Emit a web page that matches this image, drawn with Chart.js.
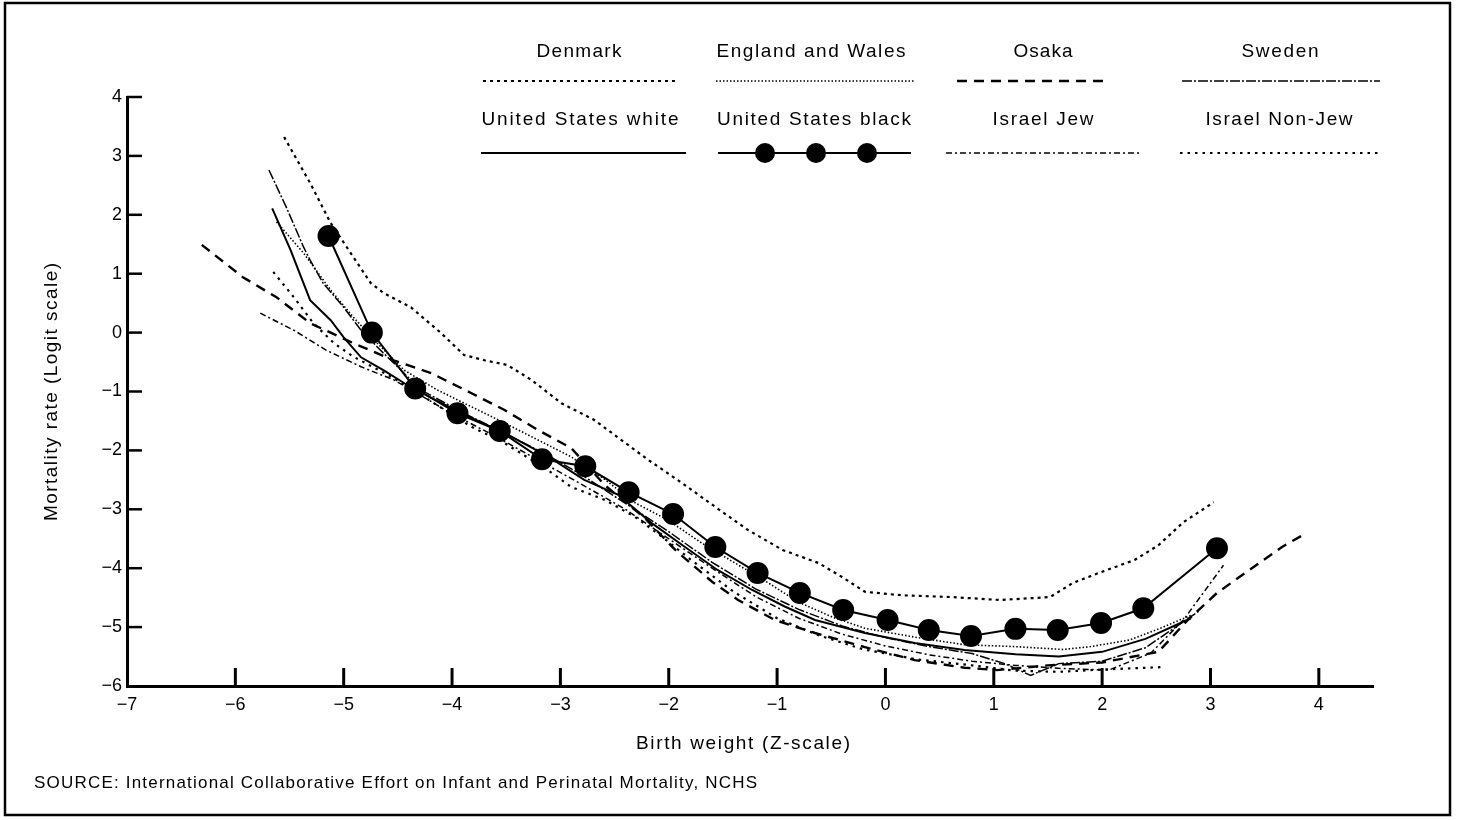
<!DOCTYPE html>
<html><head><meta charset="utf-8">
<script src="https://cdn.jsdelivr.net/npm/chart.js@4"></script>
<style>html,body{margin:0;padding:0;background:#fff}canvas{display:block}</style>
</head><body>
<canvas id="c" width="1458" height="820"></canvas>
<script>
// ---- data ----
const xTicks = [-7,-6,-5,-4,-3,-2,-1,0,1,2,3,4];
const yTicks = [-6,-5,-4,-3,-2,-1,0,1,2,3,4];
const xTitle = "Birth weight (Z-scale)";
const yTitle = "Mortality rate (Logit scale)";
const sourceText = "SOURCE: International Collaborative Effort on Infant and Perinatal Mortality, NCHS";

const denmarkX = [-5.55,-5.31,-5.12,-4.91,-4.75,-4.63,-4.38,-4.10,-3.89,-3.70,-3.49,-3.27,-2.99,-2.69,-2.44,-2.19,-1.88,-1.57,-1.27,-0.95,-0.62,-0.40,-0.19,0.15,0.61,1.06,1.52,1.73,1.97,2.30,2.52,2.75,3.03];
const denmarkY = [3.32,2.54,1.86,1.28,0.84,0.67,0.43,-0.01,-0.38,-0.47,-0.55,-0.80,-1.20,-1.48,-1.82,-2.16,-2.55,-2.96,-3.35,-3.69,-3.91,-4.15,-4.40,-4.46,-4.49,-4.54,-4.49,-4.25,-4.08,-3.86,-3.61,-3.22,-2.88];

const englandX = [-5.62,-5.37,-5.12,-4.91,-4.69,-4.44,-4.14,-3.82,-3.52,-3.21,-2.90,-2.60,-2.31,-2.01,-1.69,-1.39,-1.08,-0.81,-0.49,-0.19,0.27,0.73,1.18,1.64,1.90,2.25,2.55,2.82];
const englandY = [1.88,1.35,0.72,0.26,-0.18,-0.64,-0.97,-1.26,-1.53,-1.82,-2.11,-2.48,-2.89,-3.18,-3.58,-3.91,-4.25,-4.57,-4.83,-5.02,-5.17,-5.30,-5.33,-5.38,-5.33,-5.22,-5.01,-4.80];

const osakaX = [-6.31,-5.93,-5.62,-5.31,-4.91,-4.54,-4.19,-3.82,-3.52,-3.21,-2.90,-2.59,-2.22,-1.94,-1.60,-1.36,-1.02,-0.65,-0.19,0.27,0.73,1.03,1.50,2.00,2.52,2.79,3.06,3.36,3.66,3.85];
const osakaY = [1.49,0.94,0.60,0.16,-0.18,-0.47,-0.69,-1.03,-1.31,-1.65,-1.96,-2.59,-3.15,-3.69,-4.23,-4.54,-4.88,-5.10,-5.34,-5.56,-5.69,-5.73,-5.65,-5.60,-5.42,-4.88,-4.42,-4.03,-3.64,-3.44];

const swedenX = [-5.69,-5.53,-5.37,-5.31,-5.19,-5.00,-4.84,-4.66,-4.47,-4.29,-3.90,-3.50,-3.10,-2.80,-2.40,-2.00,-1.60,-1.20,-0.80,-0.40,0.00,0.40,0.80,1.10,1.34,1.60,2.00,2.40,2.90];
const swedenY = [2.76,2.13,1.45,1.23,0.84,0.43,0.04,-0.30,-0.64,-0.97,-1.36,-1.72,-2.10,-2.42,-2.90,-3.38,-3.90,-4.35,-4.70,-4.98,-5.18,-5.33,-5.45,-5.62,-5.82,-5.62,-5.58,-5.35,-4.72];

const usWhiteX = [-5.66,-5.49,-5.31,-5.12,-5.00,-4.84,-4.63,-4.44,-4.20,-3.90,-3.50,-3.10,-2.78,-2.47,-2.16,-1.85,-1.55,-1.23,-0.93,-0.65,-0.19,0.27,0.73,1.20,1.60,2.00,2.40,2.82];
const usWhiteY = [2.11,1.40,0.55,0.21,-0.08,-0.42,-0.64,-0.86,-1.10,-1.38,-1.72,-2.12,-2.50,-2.75,-3.23,-3.64,-4.03,-4.37,-4.65,-4.88,-5.10,-5.27,-5.39,-5.46,-5.50,-5.42,-5.20,-4.85];

const usBlackX = [-5.14,-4.74,-4.34,-3.95,-3.56,-3.17,-2.77,-2.37,-1.96,-1.57,-1.18,-0.79,-0.39,0.02,0.40,0.79,1.20,1.59,1.99,2.38,3.06];
const usBlackY = [1.64,0.00,-0.95,-1.37,-1.67,-2.15,-2.27,-2.71,-3.08,-3.64,-4.08,-4.42,-4.71,-4.88,-5.05,-5.15,-5.03,-5.05,-4.93,-4.68,-3.66];

const israelJewX = [-5.77,-5.46,-5.16,-4.84,-4.54,-4.34,-4.00,-3.60,-3.20,-2.80,-2.40,-2.00,-1.60,-1.20,-0.80,-0.40,0.00,0.40,0.80,1.20,1.60,2.06,2.45,2.75,3.12];
const israelJewY = [0.33,0.04,-0.30,-0.58,-0.80,-1.01,-1.38,-1.76,-2.17,-2.58,-3.00,-3.50,-4.00,-4.48,-4.85,-5.12,-5.32,-5.47,-5.58,-5.65,-5.70,-5.73,-5.44,-4.88,-3.95];

const israelNonJewX = [-5.65,-5.46,-5.28,-5.09,-4.91,-4.56,-4.26,-3.82,-3.52,-3.12,-2.90,-2.59,-2.31,-2.06,-1.80,-1.40,-1.00,-0.60,-0.20,0.30,0.80,1.20,1.60,2.00,2.55];
const israelNonJewY = [1.03,0.60,0.16,-0.18,-0.41,-0.75,-1.09,-1.60,-1.87,-2.33,-2.62,-2.84,-3.13,-3.47,-3.85,-4.40,-4.85,-5.15,-5.38,-5.55,-5.65,-5.74,-5.76,-5.72,-5.68];

// ---- chart ----
const FONT = 'Liberation Sans, Arial, Helvetica, sans-serif';
const pts = (xs, ys) => xs.map((x, i) => ({x: x, y: ys[i]}));
const fmt = v => (v < 0 ? '\u2212' + Math.abs(v) : String(v));

const datasets = [
  {label:'Denmark', data:pts(denmarkX, denmarkY), borderDash:[3,4], borderWidth:2.2},
  {label:'England and Wales', data:pts(englandX, englandY), borderDash:[1.5,2], borderWidth:1.6},
  {label:'Osaka', data:pts(osakaX, osakaY), borderDash:[10,7], borderWidth:2.4},
  {label:'Sweden', data:pts(swedenX, swedenY), borderDash:[10,2,2,2], borderWidth:1.5},
  {label:'United States white', data:pts(usWhiteX, usWhiteY), borderDash:[], borderWidth:2},
  {label:'Israel Jew', data:pts(israelJewX, israelJewY), borderDash:[6,3,2,3], borderWidth:1.5},
  {label:'Israel Non-Jew', data:pts(israelNonJewX, israelNonJewY), borderDash:[2.5,5], borderWidth:2.2},
  {label:'United States black', data:pts(usBlackX, usBlackY), borderDash:[], borderWidth:2, pointRadius:10}
].map(d => Object.assign({borderColor:'#000', backgroundColor:'#000', pointBackgroundColor:'#000', pointBorderColor:'#000', pointRadius:0, tension:0, fill:false}, d));

const legendLayout = [
  {name:'Denmark', tx:579, ty:52, w:85, x1:483, x2:677, ly:81},
  {name:'England and Wales', tx:811, ty:52, w:189, x1:716, x2:914, ly:81},
  {name:'Osaka', tx:1043, ty:52, w:59, x1:957, x2:1105, ly:81},
  {name:'Sweden', tx:1280, ty:52, w:77, x1:1182, x2:1380, ly:81},
  {name:'United States white', tx:580, ty:120, w:197, x1:481, x2:686, ly:153},
  {name:'United States black', tx:814, ty:120, w:194, x1:718, x2:911, ly:153, dots:[765,816,867]},
  {name:'Israel Jew', tx:1043, ty:120, w:101, x1:946, x2:1140, ly:153},
  {name:'Israel Non-Jew', tx:1279, ty:120, w:147, x1:1180, x2:1378, ly:153}
];

// draws text stretched by letter spacing so that it spans the target width
function fitText(c, text, x, y, size, width, align) {
  c.font = size + 'px ' + FONT;
  c.letterSpacing = '0px';
  const w = c.measureText(text).width;
  const sp = (width - w) / Math.max(1, text.length - 1);
  c.letterSpacing = sp + 'px';
  c.textAlign = align; c.textBaseline = 'middle'; c.fillStyle = '#000';
  const off = align === 'center' ? sp / 2 : 0;
  c.fillText(text, x + off, y);
  c.letterSpacing = '0px';
}

const decor = {
  id: 'decor',
  afterDraw(chart) {
    const c = chart.ctx, xs = chart.scales.x, ys = chart.scales.y, a = chart.chartArea;
    c.save();
    c.strokeStyle = '#000'; c.setLineDash([]);
    // inward tick marks
    c.lineWidth = 2.5;
    yTicks.forEach(v => { if (v === yTicks[0]) return; const p = ys.getPixelForValue(v);
      c.beginPath(); c.moveTo(a.left, p); c.lineTo(a.left + 15, p); c.stroke(); });
    c.lineWidth = 3;
    xTicks.forEach(v => { if (v === xTicks[0]) return; const p = xs.getPixelForValue(v);
      c.beginPath(); c.moveTo(p, a.bottom); c.lineTo(p, a.bottom - 18); c.stroke(); });
    // frame
    c.lineWidth = 2.5;
    c.strokeRect(5, 3, 1445, 812);
    // legend
    legendLayout.forEach(L => {
      const ds = chart.data.datasets.find(d => d.label === L.name);
      fitText(c, L.name, L.tx, L.ty, 19, L.w, 'center');
      c.strokeStyle = '#000';
      c.lineWidth = ds.borderWidth; c.setLineDash(ds.borderDash || []);
      c.beginPath(); c.moveTo(L.x1, L.ly); c.lineTo(L.x2, L.ly); c.stroke();
      c.setLineDash([]);
      if (L.dots) L.dots.forEach(dx => { c.beginPath(); c.arc(dx, L.ly, 10, 0, Math.PI * 2); c.fillStyle = '#000'; c.fill(); });
    });
    // axis titles and source
    fitText(c, xTitle, 743, 744, 19, 214, 'center');
    c.save(); c.translate(52, 392); c.rotate(-Math.PI / 2);
    fitText(c, yTitle, 0, 0, 19, 258, 'center');
    c.restore();
    fitText(c, sourceText, 34, 783, 17, 723, 'left');
    c.restore();
  }
};

new Chart(document.getElementById('c'), {
  type: 'line',
  data: {datasets: datasets},
  options: {
    responsive: false, animation: false, devicePixelRatio: 1,
    layout: {padding: {top: 97, right: 85, left: 0, bottom: 0}},
    plugins: {legend: {display: false}, tooltip: {enabled: false}},
    scales: {
      x: {
        type: 'linear', min: -7, max: 4.5,
        afterBuildTicks: s => { s.ticks = xTicks.map(v => ({value: v})); },
        afterFit: s => { s.height = 134; },
        grid: {display: false, drawTicks: false},
        border: {display: true, color: '#000', width: 3},
        ticks: {padding: 8, color: '#000', autoSkip: false, maxRotation: 0, font: {family: FONT, size: 18}, callback: v => fmt(v)}
      },
      y: {
        type: 'linear', min: -6, max: 4,
        afterBuildTicks: s => { s.ticks = yTicks.map(v => ({value: v})); },
        afterFit: s => { s.width = 127; },
        grid: {display: false, drawTicks: false},
        border: {display: true, color: '#000', width: 3},
        ticks: {padding: 5, color: '#000', autoSkip: false, font: {family: FONT, size: 18}, callback: v => fmt(v)}
      }
    }
  },
  plugins: [decor]
});
</script>
</body></html>
